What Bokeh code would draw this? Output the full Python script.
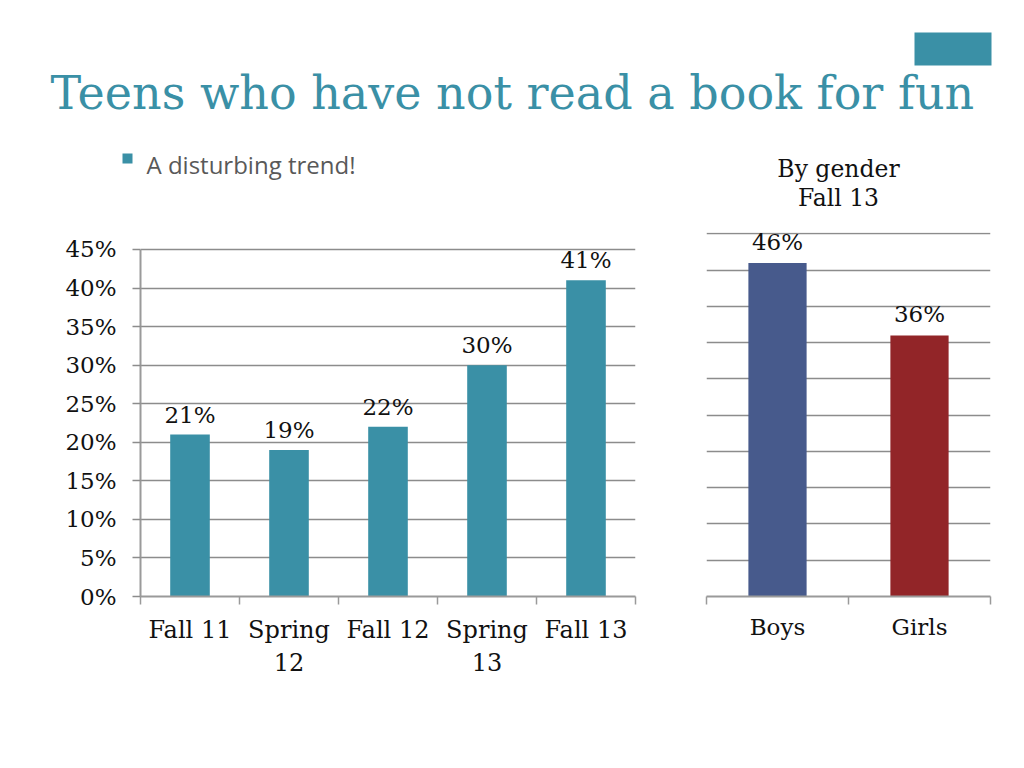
from bokeh.plotting import figure
from bokeh.layouts import column, row
from bokeh.models import Range1d, FixedTicker, ColumnDataSource
from bokeh.core.properties import value
from bokeh.embed import file_html
from bokeh.resources import INLINE

# ---------------- data ----------------
title_text = "Teens who have not read a book for fun"
bullet_text = "A disturbing trend!"
gender_title = ["By gender", "Fall 13"]

periods = ["Fall 11", "Spring\n12", "Fall 12", "Spring\n13", "Fall 13"]
period_pct = [21, 19, 22, 30, 41]
left_ticks = [0, 5, 10, 15, 20, 25, 30, 35, 40, 45]
left_max = 47.2          # visible range above the 45% gridline

genders = ["Boys", "Girls"]
gender_pct = [46, 36]
gender_colors = ["#475A8C", "#922528"]
right_ticks = [5, 10, 15, 20, 25, 30, 35, 40, 45, 50]
right_max = 50.2

TEAL = "#3A90A6"
GRID = "#8C8C8C"
AXIS = "#9A9A9A"
SERIF = "DejaVu Serif"


def style_cat_axis(ax, names, size, standoff):
    n = len(names)
    centers = [i + 0.5 for i in range(n)]
    ax.ticker = FixedTicker(ticks=centers, minor_ticks=list(range(n + 1)))
    ax.major_label_overrides = {c: s for c, s in zip(centers, names)}
    ax.major_tick_line_color = None
    ax.major_tick_out = 0
    ax.major_tick_in = 0
    ax.minor_tick_out = 8
    ax.minor_tick_in = 0
    ax.minor_tick_line_color = AXIS
    ax.minor_tick_line_width = 1.5
    ax.axis_line_color = AXIS
    ax.axis_line_width = 2
    ax.major_label_text_font = SERIF
    ax.major_label_text_font_size = size
    ax.major_label_text_color = "#111111"
    ax.major_label_standoff = standoff
    return centers


# ---------------- header figure ----------------
TOP_H = 214
top = figure(width=1018, height=TOP_H, x_range=Range1d(0, 1018), y_range=Range1d(TOP_H, 0),
             x_axis_location=None, y_axis_location=None, toolbar_location=None,
             output_backend="svg", min_border=0, outline_line_color=None)
top.grid.visible = False
top.title.text_font_size = "0px"
top.title.standoff = 0

top.text(x=[50], y=[92], text=[title_text], text_font=value(SERIF), text_font_size="46px",
         text_color=TEAL, text_baseline="alphabetic", text_align="left")
top.quad(left=[122], right=[132], top=[153], bottom=[163], fill_color=TEAL, line_color=None)
top.text(x=[146], y=[164], text=[bullet_text], text_font=value("Open Sans"), text_font_size="24px",
         text_color="#595959", text_baseline="alphabetic", text_align="left")
top.quad(left=[914], right=[991], top=[32], bottom=[65], fill_color=TEAL, line_color=None)
top.text(x=[838, 838], y=[168, 197], text=gender_title, text_font=value(SERIF),
         text_font_size="23.5px", text_color="#111111", text_baseline="alphabetic",
         text_align="center")

# ---------------- left chart ----------------
left = figure(width=688, height=509, x_range=Range1d(0, len(periods)), y_range=Range1d(0, left_max),
              toolbar_location=None, output_backend="svg",
              min_border_left=140, min_border_right=53, min_border_top=18, min_border_bottom=127,
              outline_line_color=None)
left.title.text_font_size = "0px"
left.title.standoff = 0
left.xgrid.visible = False
left.ygrid.ticker = FixedTicker(ticks=left_ticks)
left.ygrid.grid_line_color = GRID
left.ygrid.grid_line_width = 1.5

ya = left.yaxis[0]
ya.ticker = FixedTicker(ticks=left_ticks)
ya.bounds = (left_ticks[0], left_ticks[-1])
ya.major_label_overrides = {t: f"{t}%" for t in left_ticks}
ya.major_label_text_font = SERIF
ya.major_label_text_font_size = "23px"
ya.major_label_text_color = "#111111"
ya.major_label_standoff = 16
ya.major_tick_out = 8
ya.major_tick_in = 0
ya.major_tick_line_color = GRID
ya.major_tick_line_width = 1.5
ya.minor_tick_line_color = None
ya.axis_line_color = AXIS
ya.axis_line_width = 2

lx = style_cat_axis(left.xaxis[0], periods, "24px", 11)

lsrc = ColumnDataSource(dict(x=lx, y=period_pct, lab=[f"{v}%" for v in period_pct]))
left.vbar(x="x", top="y", width=0.4, source=lsrc, fill_color=TEAL, line_color=None)
left.text(x="x", y="y", text="lab", source=lsrc, text_font=value(SERIF), text_font_size="23px",
          text_color="#111111", text_align="center", text_baseline="alphabetic", y_offset=-20)

# ---------------- right chart ----------------
right = figure(width=330, height=509, x_range=Range1d(0, len(genders)), y_range=Range1d(0, right_max),
               toolbar_location=None, output_backend="svg",
               min_border_left=18, min_border_right=28, min_border_top=18,
               min_border_bottom=127, outline_line_color=None)
right.title.text_font_size = "0px"
right.title.standoff = 0
right.xgrid.visible = False
right.ygrid.ticker = FixedTicker(ticks=right_ticks)
right.ygrid.grid_line_color = GRID
right.ygrid.grid_line_width = 1.5
right.yaxis.visible = False

rx = style_cat_axis(right.xaxis[0], genders, "23px", 9)

rsrc = ColumnDataSource(dict(x=rx, y=gender_pct, c=gender_colors,
                             lab=[f"{v}%" for v in gender_pct]))
right.vbar(x="x", top="y", width=0.41, source=rsrc, fill_color="c", line_color=None)
right.text(x="x", y="y", text="lab", source=rsrc, text_font=value(SERIF), text_font_size="23px",
           text_color="#111111", text_align="center", text_baseline="alphabetic", y_offset=-21)

layout = column(top, row(left, right))
open("out.html", "w").write(file_html(layout, INLINE))
